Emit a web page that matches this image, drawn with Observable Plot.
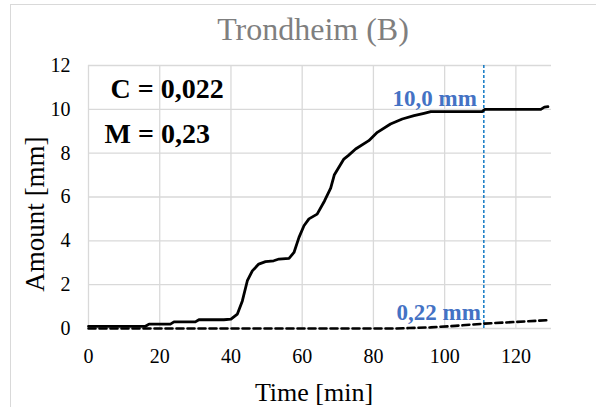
<!DOCTYPE html>
<html>
<head>
<meta charset="utf-8">
<script src="https://cdn.jsdelivr.net/npm/d3@7"></script>
<script src="https://cdn.jsdelivr.net/npm/@observablehq/plot@0.6"></script>
<style>
  html, body { margin: 0; padding: 0; background: #fff; overflow: hidden; }
  #wrap { position: relative; width: 596px; height: 407px; overflow: hidden; font-family: "Liberation Serif", "Times New Roman", serif; }
  #border { position: absolute; left: 10px; top: 4px; width: 700px; height: 500px; border: 1px solid #d9d9d9; box-sizing: border-box; }
  #title { position: absolute; left: 0; top: 13px; width: 626px; text-align: center; font-size: 32px; line-height: 32px; color: #7f7f7f; }
  #chart { position: absolute; left: 0; top: 50px; }
  #chart svg, #chart svg text { font-family: "Liberation Serif", "Times New Roman", serif !important; font-variant: normal !important; }
</style>
</head>
<body>
<div id="wrap">
  <div id="border"></div>
  <div id="title">Trondheim (B)</div>
  <div id="chart"></div>
</div>
<script>
// ---- data ----
const titleText = "Trondheim (B)";
const xTicks = [0, 20, 40, 60, 80, 100, 120];
const yTicks = [0, 2, 4, 6, 8, 10, 12];
const xLabel = "Time [min]";
const yLabel = "Amount [mm]";

// solid curve: time [min] and amount [mm]
const solidTime = [0, 16, 17, 23, 24, 30, 31, 38, 40, 41.8, 43.2, 44.6, 46, 47.8, 49.7, 52, 53.5, 56.3, 57.7, 59.1, 60.5, 61.9, 64.2, 66.3, 68, 69, 71.7, 73, 75, 78.7, 81.1, 84.8, 88.1, 91.4, 94.2, 96.1, 110.5, 111.3, 127, 128, 129];
const solidAmount = [0.1, 0.1, 0.2, 0.2, 0.3, 0.3, 0.4, 0.4, 0.43, 0.66, 1.26, 2.18, 2.63, 2.94, 3.05, 3.09, 3.17, 3.2, 3.47, 4.16, 4.69, 5.0, 5.22, 5.83, 6.4, 7.0, 7.73, 7.9, 8.19, 8.57, 8.95, 9.33, 9.56, 9.71, 9.82, 9.9, 9.9, 10.0, 10.0, 10.1, 10.12];

// dashed curve
const dashTime = [0, 86, 90, 96, 103, 111, 120, 129];
const dashAmount = [0, 0, 0.02, 0.05, 0.12, 0.22, 0.3, 0.38];

// marker
const markTime = 111;
const markValues = [10.0, 0.22];
const markLabels = ["10,0 mm", "0,22 mm"];
const markDx = [-7, -3];

// parameter annotations
const paramLabels = ["C = 0,022", "M = 0,23"];
const paramDx = [22, 16];
const paramDy = [13, 58];

document.getElementById("title").textContent = titleText;

// ---- build tables ----
const solid = solidTime.map((t, i) => ({t, v: solidAmount[i]}));
const dashed = dashTime.map((t, i) => ({t, v: dashAmount[i]}));

const marks = [
  Plot.ruleX(xTicks, {stroke: "#d9d9d9", strokeWidth: 1.3}),
  Plot.ruleY(yTicks, {stroke: "#d9d9d9", strokeWidth: 1.3}),
  Plot.ruleX([markTime], {stroke: "#0070C0", strokeWidth: 1.4, strokeDasharray: "3,2"}),
  Plot.line(dashed, {x: "t", y: "v", stroke: "#000", strokeWidth: 2.6, strokeDasharray: "7,4"}),
  Plot.line(solid, {x: "t", y: "v", stroke: "#000", strokeWidth: 2.8}),
  Plot.text([yLabel], {frameAnchor: "left", text: d => d, rotate: -90, textAnchor: "middle", lineAnchor: "middle", dx: -53, dy: 17, fontSize: 27, fill: "#000"}),
  Plot.text([xLabel], {frameAnchor: "bottom", text: d => d, dx: -6, dy: 72, fontSize: 26, fill: "#000"})
];
paramLabels.forEach((s, i) => {
  marks.push(Plot.text([s], {frameAnchor: "top-left", text: d => d, textAnchor: "start", dx: paramDx[i], dy: paramDy[i], fontSize: 28, fontWeight: "bold", fill: "#000"}));
});
markValues.forEach((v, i) => {
  marks.push(Plot.text([{t: markTime, v, s: markLabels[i]}], {x: "t", y: "v", text: "s", textAnchor: "end", dx: markDx[i], dy: -11, fontSize: 23, fontWeight: "bold", fill: "#4472C4"}));
});

const chart = Plot.plot({
  width: 596,
  height: 357,
  marginLeft: 88,
  marginRight: 45,
  marginTop: 15,
  marginBottom: 79,
  style: {fontFamily: "Liberation Serif, serif", fontSize: "20px", color: "#000", background: "transparent", overflow: "visible"},
  x: {domain: [0, 130], ticks: xTicks, tickSize: 0, tickPadding: 20, label: null, tickFormat: d => String(d)},
  y: {domain: [0, 12], ticks: yTicks, tickSize: 0, tickPadding: 18, label: null, tickFormat: d => String(d)},
  marks
});
document.getElementById("chart").appendChild(chart);
</script>
</body>
</html>
